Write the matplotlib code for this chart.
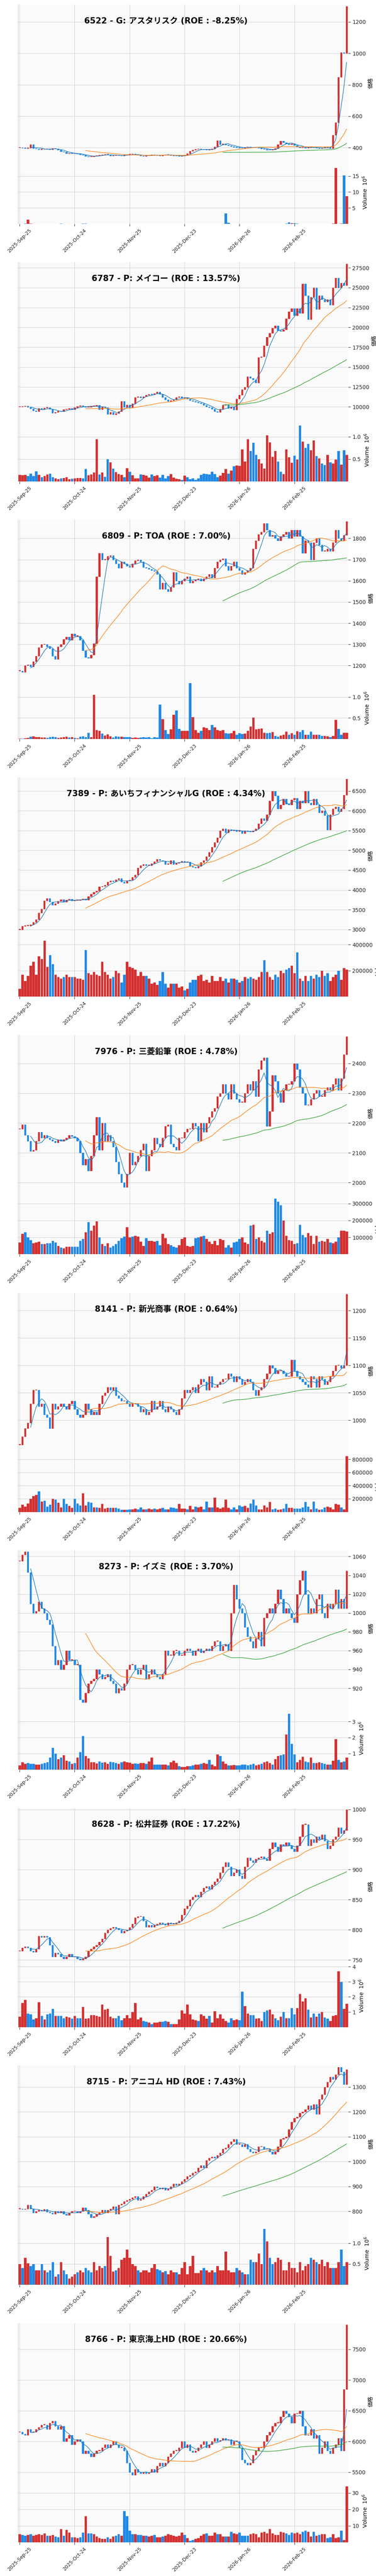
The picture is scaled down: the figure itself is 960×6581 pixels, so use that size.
import numpy as np
import pandas as pd
import matplotlib
matplotlib.use('Agg')
import matplotlib.pyplot as plt

plt.rcParams['font.family'] = ['DejaVu Sans', 'Noto Sans CJK JP']

# ---- data (closes, 120 trading days each) ----
titles = [
    '6522 - G: アスタリスク (ROE : -8.25%)',
    '6787 - P: メイコー (ROE : 13.57%)',
    '6809 - P: TOA (ROE : 7.00%)',
    '7389 - P: あいちフィナンシャルG (ROE : 4.34%)',
    '7976 - P: 三菱鉛筆 (ROE : 4.78%)',
    '8141 - P: 新光商事 (ROE : 0.64%)',
    '8273 - P: イズミ (ROE : 3.70%)',
    '8628 - P: 松井証券 (ROE : 17.22%)',
    '8715 - P: アニコム HD (ROE : 7.43%)',
    '8766 - P: 東京海上HD (ROE : 20.66%)',
]
date_labels = ['2025-Sep-25', '2025-Oct-24', '2025-Nov-25', '2025-Dec-23', '2026-Jan-26', '2026-Feb-25']

close_6522 = [400,397,396,398,420,395,392,388,391,390,393,389,396,392,385,375,372,362,365,364,
              362,360,356,352,345,342,344,347,350,352,355,357,356,348,350,353,350,348,352,356,
              357,358,356,352,347,345,350,352,355,353,350,348,352,356,354,351,349,347,345,349,
              350,362,377,385,390,392,390,387,386,389,392,405,445,420,426,419,414,408,404,401,
              399,397,402,406,400,403,400,397,394,390,386,385,388,395,420,442,433,425,421,426,
              416,405,400,403,399,401,403,400,398,395,398,400,402,395,480,560,850,1005,1000,1300]
vol_6522 = [.05,.05,.1,1.3,.1,.05,.03,.02,.02,.02,.02,.03,.02,.02,.02,.08,.05,.06,.04,.03,
            .02,.02,.03,.15,.1,.05,.03,.02,.03,.02,.02,.02,.03,.02,.04,.02,.03,.02,.02,.03,
            .02,.02,.02,.03,.02,.02,.05,.02,.02,.02,.03,.02,.02,.03,.02,.05,.02,.02,.05,.02,
            .03,.02,.02,.02,.03,.02,.02,.02,.02,.02,.03,.02,.02,.02,.05,3.3,.4,.05,.05,.02,
            .05,.03,.02,.02,.02,.02,.03,.02,.02,.02,.02,.02,.02,.02,.02,.02,.05,.1,.5,.3,
            .2,.1,.05,.02,.05,.02,.03,.02,.02,.02,.02,.02,.02,.02,.1,17.5,.05,.1,15.2,8.7]

close_6787 = [10000,10050,10100,9980,9750,9500,9420,9800,9700,9880,9920,9700,9250,9300,9450,9420,9650,9720,9800,9650,
              9900,10050,10150,10080,9950,9980,10100,10120,10200,9650,10000,9900,9100,9300,9050,9200,9400,10700,9950,10250,
              9900,10400,11200,11300,11150,11300,11500,11600,11550,11700,11900,11600,11200,10900,10700,10800,10900,11200,11300,11100,
              11200,11000,10800,10700,10600,10500,10400,10200,10000,9900,9700,9400,9300,9700,10200,10300,9800,10000,9600,11000,
              11500,12200,12500,13800,13600,13400,13000,16200,16300,17700,18800,19300,19900,20200,19600,19500,19700,21100,22000,22400,
              21500,22400,21800,25500,24000,21000,23800,25000,22300,24000,23500,23200,23500,22800,25000,26200,25000,25600,25300,28000]
vol_6787 = [.15,.14,.15,.12,.18,.12,.23,.15,.10,.12,.16,.18,.10,.07,.05,.07,.08,.10,.05,.06,
            .07,.08,.08,.07,.28,.14,.16,.20,.95,.16,.20,.11,.50,.43,.29,.21,.17,.15,.10,.30,
            .22,.14,.07,.07,.16,.15,.13,.09,.16,.12,.14,.09,.15,.07,.12,.17,.09,.06,.05,.04,
            .13,.10,.05,.07,.04,.07,.15,.18,.17,.16,.22,.17,.10,.13,.19,.28,.18,.25,.34,.36,
            .35,.72,.45,.95,.68,.87,.60,.50,.40,.29,1.03,.88,.55,.68,.45,.22,.17,.72,.54,.42,
            .58,.49,1.25,.89,.75,.84,.70,.92,.57,.52,.40,.37,.60,.43,.40,.49,.68,.38,.70,.60]

close_6809 = [1175,1170,1200,1205,1195,1220,1245,1285,1300,1300,1290,1280,1245,1230,1290,1300,1325,1335,1320,1350,
              1340,1340,1320,1270,1240,1235,1250,1305,1620,1730,1700,1700,1715,1720,1700,1680,1660,1690,1680,1670,
              1665,1680,1695,1700,1690,1665,1660,1655,1650,1645,1630,1560,1590,1560,1550,1570,1640,1600,1585,1600,
              1610,1620,1590,1600,1605,1610,1600,1610,1620,1630,1615,1660,1690,1700,1705,1670,1650,1670,1690,1660,
              1650,1630,1640,1650,1660,1750,1790,1820,1830,1870,1840,1810,1815,1800,1790,1810,1820,1830,1800,1840,
              1810,1840,1810,1730,1790,1780,1700,1780,1800,1770,1740,1740,1750,1740,1780,1840,1800,1790,1815,1880]
vol_6809 = [.01,.01,.02,.03,.06,.07,.05,.05,.04,.04,.03,.05,.06,.05,.03,.04,.05,.06,.04,.05,
            .03,.02,.06,.07,.05,.15,.05,1.05,.22,.20,.13,.09,.11,.07,.04,.07,.06,.06,.05,.05,
            .05,.03,.04,.03,.04,.05,.04,.05,.02,.05,.04,.82,.48,.22,.12,.23,.58,.68,.24,.20,
            .20,.20,1.33,.52,.22,.15,.20,.28,.26,.22,.34,.28,.22,.20,.22,.14,.13,.14,.20,.10,
            .14,.12,.13,.20,.30,.51,.23,.24,.25,.15,.14,.15,.17,.08,.06,.09,.10,.18,.10,.14,
            .10,.19,.17,.22,.10,.10,.18,.10,.10,.10,.08,.08,.07,.05,.08,.46,.24,.10,.15,.15]

close_7389 = [3000,3090,3100,3100,3130,3190,3250,3420,3520,3730,3790,3700,3620,3660,3720,3760,3700,3750,3770,3730,
              3740,3740,3760,3780,3750,3840,3900,3950,3980,4080,4090,4120,4200,4230,4210,4260,4290,4200,4170,4230,
              4250,4320,4380,4560,4620,4650,4620,4620,4670,4720,4780,4750,4730,4650,4660,4750,4650,4680,4700,4730,
              4700,4710,4600,4580,4560,4600,4700,4750,4850,4950,5080,5200,5320,5500,5550,5450,5530,5500,5520,5480,
              5500,5430,5500,5480,5470,5500,5550,5680,5800,5750,5900,6250,6500,6380,6050,6150,6300,6170,6150,6280,
              6320,6050,6250,6200,6500,6200,6150,6300,6150,5950,6000,5880,5520,5900,6050,6100,5980,6050,6400,6800]
vol_7389 = [60000,170000,120000,160000,240000,270000,170000,310000,290000,430000,230000,320000,250000,170000,150000,140000,150000,170000,150000,150000,
            150000,140000,140000,130000,360000,180000,170000,190000,170000,160000,270000,190000,170000,140000,150000,200000,180000,110000,170000,270000,
            230000,220000,210000,160000,190000,160000,160000,140000,100000,110000,90000,120000,190000,100000,70000,100000,100000,100000,70000,80000,
            50000,60000,110000,130000,130000,160000,170000,120000,130000,110000,160000,120000,120000,150000,120000,140000,110000,140000,140000,130000,
            110000,120000,150000,140000,150000,140000,130000,150000,190000,280000,190000,150000,130000,170000,150000,200000,180000,210000,220000,240000,
            180000,340000,140000,120000,160000,120000,160000,140000,170000,150000,200000,160000,180000,120000,150000,170000,200000,130000,220000,210000]

close_7976 = [2180,2195,2160,2140,2105,2110,2140,2170,2150,2160,2150,2145,2140,2135,2145,2140,2145,2150,2160,2155,
              2150,2140,2100,2060,2080,2040,2090,2160,2220,2110,2200,2140,2160,2140,2120,2070,2030,2000,1985,2030,
              2100,2060,2070,2090,2110,2130,2040,2090,2110,2150,2130,2120,2150,2190,2195,2130,2120,2110,2150,2150,
              2170,2180,2180,2200,2190,2140,2200,2170,2200,2220,2240,2250,2290,2300,2330,2300,2280,2330,2300,2280,
              2270,2270,2300,2330,2310,2340,2290,2380,2410,2420,2190,2240,2360,2340,2300,2270,2310,2330,2330,2340,
              2400,2380,2320,2300,2260,2260,2280,2300,2310,2290,2290,2310,2320,2310,2330,2350,2310,2350,2430,2490]
vol_7976 = [70000,120000,130000,100000,85000,65000,70000,75000,60000,60000,65000,65000,80000,70000,50000,40000,35000,45000,45000,45000,
            45000,45000,80000,90000,130000,190000,140000,170000,195000,100000,60000,50000,65000,40000,50000,60000,80000,95000,105000,160000,
            100000,105000,110000,105000,75000,50000,95000,80000,80000,75000,80000,55000,120000,95000,60000,55000,45000,40000,55000,90000,
            100000,50000,45000,50000,95000,100000,105000,110000,90000,75000,60000,80000,55000,90000,85000,40000,55000,40000,70000,75000,
            90000,100000,70000,60000,170000,175000,90000,100000,80000,70000,140000,120000,130000,330000,310000,290000,200000,110000,85000,80000,
            60000,65000,175000,115000,100000,125000,110000,60000,110000,75000,80000,75000,90000,70000,65000,75000,100000,140000,140000,135000]

close_8141 = [955,970,985,995,1030,1055,1055,1025,1030,1010,1005,985,1030,1020,1025,1030,1025,1020,1030,1035,
              1020,1010,1005,1010,1030,1020,1010,1015,1010,1030,1045,1050,1060,1055,1060,1045,1040,1035,1035,1030,
              1025,1030,1030,1025,1015,1020,1010,1015,1035,1020,1025,1035,1020,1015,1025,1020,1015,1010,1020,1040,
              1055,1050,1055,1060,1050,1065,1075,1070,1055,1080,1060,1060,1065,1070,1075,1075,1085,1080,1070,1080,
              1075,1065,1070,1075,1070,1055,1045,1055,1060,1075,1085,1100,1095,1085,1090,1090,1085,1080,1080,1110,
              1090,1080,1075,1070,1065,1060,1080,1075,1060,1080,1075,1065,1070,1080,1090,1100,1100,1095,1100,1230]
vol_8141 = [60000,110000,80000,130000,200000,240000,260000,310000,160000,170000,80000,110000,200000,190000,140000,70000,200000,120000,90000,60000,
            200000,130000,100000,280000,100000,150000,140000,70000,70000,60000,120000,50000,60000,60000,60000,60000,50000,30000,30000,30000,
            40000,40000,50000,40000,70000,40000,40000,50000,40000,50000,40000,50000,60000,40000,40000,70000,60000,50000,120000,50000,
            50000,40000,90000,40000,80000,70000,80000,40000,160000,70000,70000,220000,70000,50000,70000,190000,60000,40000,70000,40000,
            100000,80000,90000,60000,130000,190000,100000,40000,40000,100000,70000,150000,40000,50000,30000,40000,50000,120000,60000,60000,
            50000,50000,50000,70000,150000,80000,40000,160000,50000,30000,40000,70000,80000,70000,40000,120000,110000,70000,40000,850000]

close_8273 = [1055,1062,1065,1043,1010,1000,1002,1012,1005,1000,993,988,965,945,950,940,945,960,950,950,
              945,945,908,905,915,925,928,930,940,935,930,932,935,928,925,915,920,918,925,940,
              945,945,940,935,940,945,930,935,940,935,932,930,935,960,955,955,960,960,955,955,
              960,962,960,955,960,962,958,960,962,960,965,970,970,960,965,967,960,1000,1030,1015,
              1005,1000,985,975,970,963,973,980,965,995,1000,1005,1000,1010,1025,1015,1000,1005,1000,995,
              990,1020,1035,1045,1020,1000,1005,1000,1015,1020,1000,995,1010,1005,1010,1025,1005,1015,1005,1045]
vol_8273 = [.25,.45,.35,.40,.35,.35,.32,.30,.35,.40,.45,.75,1.35,1.0,.65,.75,.90,.55,.50,.35,
            .40,.75,1.1,2.1,.85,.70,.45,.45,.38,.50,.42,.45,.35,.48,.45,.40,.35,.45,.50,.45,
            .42,.35,.38,.35,.40,.40,.35,.50,.75,.30,.32,.30,.30,.32,.25,.45,.55,.40,.20,.15,
            .15,.20,.20,.25,.30,.30,.35,.40,.35,.60,.30,.20,.95,.85,.50,.35,.25,.25,.28,.25,
            .25,.30,.30,.25,.30,.35,.25,.30,.35,.45,.50,.40,.30,.65,.85,.90,.95,2.2,3.5,1.6,
            .95,.45,.60,.80,.50,.45,.75,.40,.40,.45,.40,.35,.30,.30,.55,1.9,.60,.45,.50,.75]

close_8628 = [765,770,772,770,765,763,768,790,788,790,788,775,755,762,760,755,752,755,760,755,
              755,752,750,752,755,765,768,772,775,780,785,795,800,803,805,803,800,795,798,800,
              804,810,820,822,822,815,805,808,805,808,810,812,810,808,812,810,810,812,815,825,
              835,840,850,855,858,855,863,870,872,868,875,880,885,895,905,912,905,890,895,900,
              890,885,905,920,915,912,918,920,922,918,915,935,945,938,930,942,940,945,940,935,
              930,940,955,975,975,940,950,945,955,950,958,948,935,940,950,955,970,960,965,1000]
vol_8628 = [.7,1.6,1.8,.9,.85,.5,.6,1.65,.75,.5,.85,.9,1.2,.75,.75,.75,.6,.7,.65,.55,
            .75,.6,.6,1.35,.55,.6,.8,.8,.75,.7,1.5,1.15,1.2,.7,.6,.6,.75,.45,.6,.8,
            .6,1.0,1.6,.5,.65,.4,.35,.3,.2,.3,.3,.35,.35,.4,.35,.2,.2,.2,.5,1.1,
            .9,1.5,.85,.5,.45,.4,.85,.75,.55,.75,.3,1.05,.6,.85,.55,.4,.3,.6,.45,.5,
            .45,2.35,1.4,.9,.8,.8,.55,.6,.4,1.0,1.1,1.15,.85,.6,.45,.7,1.0,.6,.6,1.25,
            .85,1.25,2.2,1.7,1.9,1.15,.65,.9,.7,.9,1.0,.65,.55,.4,.75,.8,3.7,3.0,1.2,1.55]

close_8715 = [810,808,810,825,810,795,800,805,802,808,798,795,790,800,795,800,790,785,795,800,
              800,795,800,815,805,790,775,780,790,795,805,795,805,810,820,790,825,830,840,845,
              850,855,860,845,850,860,870,880,885,900,895,890,895,885,890,900,910,905,910,920,
              930,940,945,955,960,975,985,975,1005,1015,1020,1015,1025,1035,1050,1055,1070,1080,1090,1070,
              1070,1060,1070,1050,1040,1035,1040,1060,1060,1050,1050,1040,1030,1040,1060,1090,1095,1100,1130,1160,
              1175,1180,1195,1200,1210,1225,1210,1230,1190,1250,1270,1300,1320,1340,1330,1350,1380,1360,1310,1370]
vol_8715 = [.5,.4,.65,.52,.45,.5,.35,.35,.5,.35,.3,.35,.55,.2,.25,.55,.35,.25,.15,.2,
            .25,.3,.35,.3,.4,.35,.3,.55,.35,.45,.4,.45,1.15,.7,.32,.35,.4,.6,.65,.85,
            .65,.5,.45,.35,.3,.35,.35,.3,.4,.5,.38,.35,.3,.33,.25,.35,.3,.3,.25,.4,
            .55,.25,.45,.7,.28,.28,.35,.4,.35,.3,.35,.3,.45,.35,.35,.8,.35,.3,.3,.4,
            .35,.3,.25,.25,.6,.55,.55,.75,.5,1.35,1.05,.65,.5,.55,.65,.6,.35,.35,.55,.4,
            .4,.3,.55,.35,.45,.5,.65,.6,.55,.5,.6,.45,.55,.4,.4,.4,.55,.85,.45,.55]

close_8766 = [6150,6120,6100,6200,6150,6150,6200,6230,6270,6270,6200,6300,6330,6250,6200,6250,6000,6050,6100,5950,
              6000,6030,6000,5800,5850,5800,5750,5800,5850,5850,5900,5950,5900,5950,6000,5950,5900,5900,5850,5650,
              5500,5450,5550,5500,5480,5500,5480,5500,5550,5500,5600,5650,5600,5650,5750,5800,5850,5850,5900,6000,
              5900,5950,5850,5820,5850,5900,5950,6000,5900,5950,6000,6050,6000,6020,6050,6020,6030,5950,6000,6000,
              5900,5700,5650,5620,5650,5780,5850,5900,5900,6000,6100,6150,6250,6300,6300,6400,6500,6450,6400,6300,
              6450,6450,6500,6250,6100,6100,6200,6050,6100,5800,5900,6000,5850,5800,5900,5950,6050,5850,6850,7900]
vol_8766 = [5,4.5,4,4.5,5,4,4.5,5,4.5,5.5,4,4,4.5,3.5,3,8,4,7.5,6,3,
            3,2.5,3,6,16,5.5,5.5,5,3.5,2.5,2,2,3,2,3.5,4,5,4,19,16,
            7,5,5,4.5,4.5,4,4,3.5,4,4.5,3,3,3.5,4,5,4.5,4,3.5,4,6,
            4.5,2.5,1,1.5,2,2.5,4,5,5.5,4,4,6,5,5,3.5,3.5,3.5,6.5,5.5,5,
            6,4,4,4,5,5.5,5,3,6,6.5,5.5,8,5.5,4.5,4.5,6.5,6,5.5,4.5,6,
            5.5,6,5,6.5,7,6.5,3.5,6.5,4,4.5,5,5,2.5,3,5,2.5,3,7,1.5,34]

closes = [close_6522, close_6787, close_6809, close_7389, close_7976,
          close_8141, close_8273, close_8628, close_8715, close_8766]
volumes = [vol_6522, vol_6787, vol_6809, vol_7389, vol_7976,
           vol_8141, vol_8273, vol_8628, vol_8715, vol_8766]
vol_in_millions = [True, True, True, False, False, False, True, True, True, True]
price_step = [200, 2500, 100, 500, 100, 50, 20, 50, 100, 500]
vol_step = [5, 0.5, 0.5, 200000, 100000, 200000, 1, 1, 0.5, 10]

UP = '#d32f2f'
DOWN = '#1e88e5'
W, H = 960, 6581
PANEL = 658.1
CJK = ['Noto Sans CJK JP', 'DejaVu Sans']

fig = plt.figure(figsize=(W / 100, H / 100), dpi=100, facecolor='white')


def px_axes(top, bottom):
    return [46 / W, 1 - bottom / H, 843 / W, (bottom - top) / H]


for k in range(len(closes)):
    c = np.array(closes[k], dtype=float)
    o = np.concatenate([[c[0]], c[:-1]])
    v = np.array(volumes[k], dtype=float)
    n = len(c)
    x = np.arange(n)
    up = c >= o
    cols = np.where(up, UP, DOWN)
    top = PANEL * k + 12

    ax = fig.add_axes(px_axes(top, top + 400))
    axv = fig.add_axes(px_axes(top + 400, top + 560), sharex=ax)

    body_lo = np.minimum(o, c)
    rng = c.max() - c.min()
    body_h = np.maximum(np.abs(c - o), rng * 0.004)
    ax.bar(x, body_h, bottom=body_lo, width=0.6, color=cols, edgecolor=cols, linewidth=0.5, zorder=3)

    s = pd.Series(c)
    ax.plot(x, s.rolling(5).mean(), color='tab:blue', lw=1, zorder=4)
    ax.plot(x, s.rolling(25).mean(), color='tab:orange', lw=1, zorder=4)
    ax.plot(x, s.rolling(75).mean(), color='tab:green', lw=1, zorder=4)

    ax.set_ylim(c.min() - rng * 0.03, c.max() + rng * 0.01)
    st = price_step[k]
    ax.set_yticks(np.arange(np.ceil(c.min() / st) * st, c.max() + 1, st))
    ax.set_xlim(-0.6, n - 0.4)
    ax.set_xticks(np.arange(0, 101, 20))

    axv.bar(x, v, width=0.8, color=cols, edgecolor=cols, linewidth=0.5, zorder=3)
    axv.set_ylim(0, v.max() * 1.12)
    vs = vol_step[k]
    axv.set_yticks(np.arange(vs, v.max() * 1.1, vs))
    if not vol_in_millions[k]:
        axv.set_yticklabels([f'{int(t)}' for t in np.arange(vs, v.max() * 1.1, vs)])
    axv.set_xticks(np.arange(0, 101, 20))
    axv.set_xticklabels(date_labels, rotation=45, ha='center', fontsize=9)
    vlab = 'Volume  $10^{6}$' if vol_in_millions[k] else 'Volume'

    for a in (ax, axv):
        a.set_facecolor('#fafafa')
        a.grid(True, color='#d8d8d8', lw=1)
        a.set_axisbelow(True)
        a.yaxis.tick_right()
        a.yaxis.set_label_position('right')
        a.tick_params(labelsize=10, colors='#222222', direction='out', length=4)
        for sp in a.spines.values():
            sp.set_visible(False)
        a.spines['left'].set_visible(True)
        a.spines['left'].set_color('#cccccc')
    axv.tick_params(axis='x', labelsize=9)
    plt.setp(ax.get_xticklabels(), visible=False)
    ax.tick_params(axis='x', length=0)
    ax.set_ylabel('価格', fontsize=10, family=CJK)
    axv.set_ylabel(vlab, fontsize=10)

    fig.text(424 / W, 1 - (top + 42) / H, titles[k], ha='center', va='center',
             fontsize=15, fontweight='bold', family=['DejaVu Sans', 'Noto Sans CJK JP'])

fig.savefig('out.png', dpi=100)
